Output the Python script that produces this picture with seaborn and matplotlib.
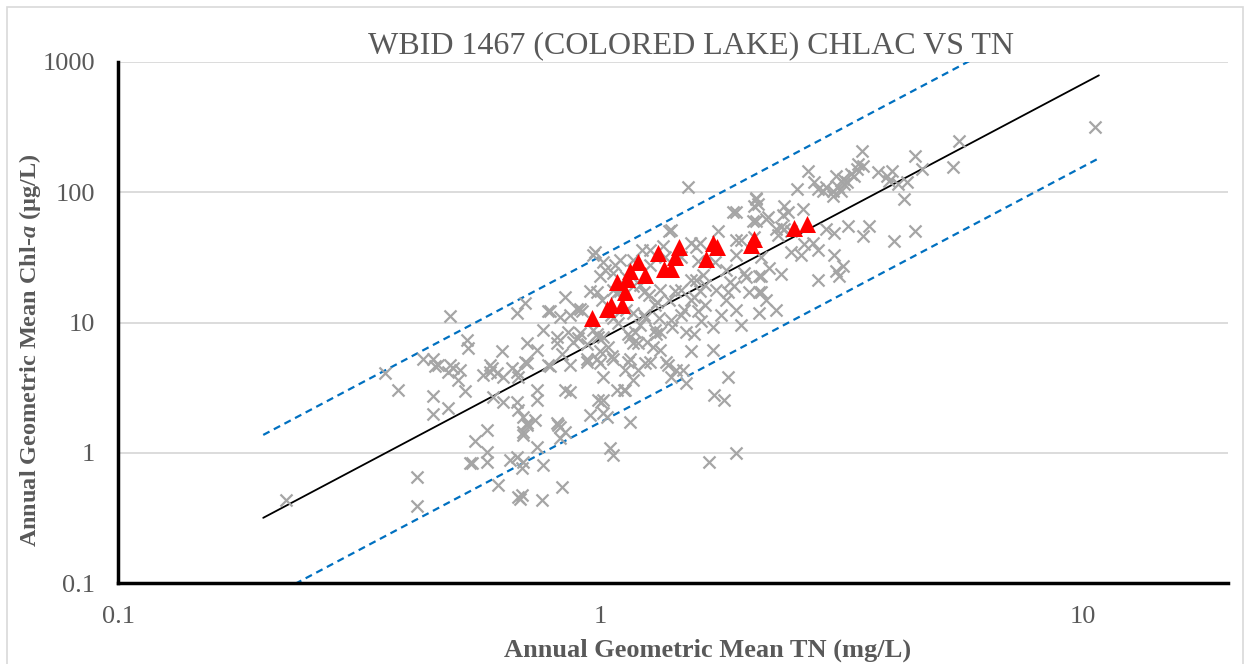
import numpy as np
import pandas as pd
import matplotlib
matplotlib.use("Agg")
import matplotlib.pyplot as plt
import matplotlib.ticker as mticker
from matplotlib.patches import Rectangle
import seaborn as sns

# ---------------- data ----------------
tn_gray = [
    0.223, 0.357, 0.380, 0.416, 0.416, 0.429, 0.450, 0.461, 0.488, 0.488, 0.494, 0.483, 0.512, 0.507, 0.524,
    0.529, 0.532, 0.450, 0.450, 0.483, 0.537, 0.455,
    0.582, 0.550, 0.582, 0.582, 0.542, 0.614, 0.675, 0.682, 0.689, 0.758, 0.834, 0.761, 0.692, 0.672,
    0.650, 0.740, 0.689, 0.814, 0.826, 0.846, 0.826, 0.818, 0.705, 0.692, 1.049, 1.064, 1.68, 1.91,
    0.590, 0.590, 0.571, 0.610, 0.629, 0.626, 0.672, 0.705, 0.675, 0.705,
    0.599, 0.629, 0.672, 0.675, 0.692, 0.740, 0.740, 0.733, 0.705, 0.692,
    0.761, 0.787, 0.826, 0.814, 0.814, 0.834, 0.866, 0.787, 0.846, 0.866,
    0.846, 0.698, 0.672, 0.780, 0.896, 0.917, 0.866, 0.780, 0.596, 0.856,
    0.878, 0.909, 0.967, 0.990, 0.940, 1.0, 0.940, 0.740, 0.698, 0.656,
    0.900, 0.909, 0.940, 0.986, 0.990, 1.005, 1.014, 1.014, 0.953, 1.014,
    1.034, 1.085, 1.127, 1.154, 1.039, 1.059, 1.014, 0.976, 1.014, 0.986,
    1.154, 1.170, 1.143, 1.194, 1.064, 1.0, 1.117, 1.127, 1.170,
    1.143, 1.182, 1.194, 1.252, 1.283, 1.301, 1.332, 1.41, 1.502, 1.56,
    1.614, 1.71, 1.538, 1.71, 1.154, 1.240, 1.270, 1.365, 1.378, 1.432,
    1.48, 1.84, 1.72, 1.80, 1.398, 1.502, 1.332,
    1.516, 0.967, 1.385, 1.88, 2.08, 2.07, 2.08, 1.538, 1.576, 1.270,
    1.22, 1.17, 1.10, 1.024, 1.0, 0.953, 0.986, 1.01, 1.064, 1.10,
    1.21, 1.26, 1.30, 1.33, 1.39, 1.43, 1.49, 1.54, 1.61, 1.65,
    1.74, 1.82, 1.78, 1.91, 1.955, 1.24, 1.32, 1.40, 1.47, 1.54,
    1.63, 1.65, 1.82, 1.86, 2.0, 2.03, 2.2, 2.31, 1.91, 1.73,
    1.955, 2.15, 2.24, 1.06, 1.13, 1.27, 1.36, 1.47, 1.59, 1.05,
    1.13, 1.21, 1.30, 1.064, 1.09, 1.17, 1.23, 1.59, 1.84, 1.89,
    1.98, 2.13, 2.13, 2.13, 1.074, 1.085, 1.17, 1.23, 1.31, 1.47,
    1.56, 1.576, 1.75, 1.91, 1.40, 1.35, 1.61, 1.91, 2.10, 2.23,
    2.37, 2.485,
    5.55, 3.48, 4.48, 4.64, 5.38, 2.70, 3.08, 3.18, 3.24, 3.31,
    3.40, 3.42, 3.50, 3.36, 3.76, 3.92, 4.02, 3.96, 4.14, 4.32,
    4.26, 2.77, 2.83, 2.94, 3.03, 3.11, 3.16, 3.20, 3.03, 2.89,
    2.55, 2.10, 2.12, 2.40, 2.45, 2.39, 2.63, 2.20, 2.10, 2.31,
    2.40, 2.34, 2.94, 3.05, 3.26, 3.60, 3.50, 4.06, 4.48, 2.48,
    2.61, 2.64, 2.76, 2.83, 3.05, 2.37, 2.15, 2.15, 2.83, 3.08,
    3.13, 3.18, 10.6,
]
chla_gray = [
    0.435, 4.1, 3.05, 0.65, 0.39, 5.2, 5.2, 4.75, 11.2, 4.75, 4.5, 4.2, 4.35, 3.64, 3.0,
    7.4, 6.4, 2.75, 2.0, 2.2, 0.84, 4.6,
    1.50, 1.24, 1.02, 0.85, 0.84, 0.57, 0.46, 0.44, 0.47, 0.435, 0.55, 0.81, 0.85, 0.93,
    0.88, 1.11, 0.77, 1.70, 1.58, 1.45, 1.30, 1.64, 1.70, 1.45, 1.09, 0.96, 0.85, 1.0,
    4.75, 4.2, 3.98, 4.1, 3.84, 6.0, 4.2, 4.9, 3.84, 7.0,
    2.7, 2.47, 2.47, 2.14, 1.89, 3.05, 2.56, 1.79, 1.64, 1.38,
    8.8, 12.2, 11.1, 7.7, 7.0, 5.7, 4.75, 4.6, 3.05, 2.95,
    15.8, 14.2, 11.9, 12.2, 12.6, 12.2, 11.5, 4.75, 4.5, 8.5,
    7.1, 8.3, 8.8, 7.8, 6.8, 6.0, 5.2, 6.2, 5.0, 4.5,
    7.6, 12.6, 5.0, 5.2, 2.56, 2.47, 2.56, 3.84, 1.96, 2.03,
    1.89, 3.05, 3.05, 1.73, 6.5, 5.5, 7.7, 34.5, 28.9, 8.1,
    7.8, 7.0, 5.0, 4.35, 5.2, 4.9, 3.05, 4.35, 3.64,
    8.1, 8.4, 7.0, 7.1, 6.5, 8.1, 8.4, 9.3, 8.4, 8.1,
    10.2, 9.3, 6.0, 6.2, 5.2, 4.9, 5.0, 5.0, 4.75, 4.35,
    4.35, 3.84, 2.79, 2.56, 3.84, 3.45, 6.2,
    109, 33, 50, 71, 78, 60, 45, 41, 38, 36,
    36, 30, 30, 25.3, 22.6, 17.3, 17.0, 15, 24, 17.3,
    19.4, 16.3, 13.6, 17.8, 14.9, 17.3, 12.5, 14.9, 17.3, 13.6,
    17.8, 14.9, 11.4, 12.5, 9.6, 10.9, 10.9, 10.5, 11.4, 21.2,
    23.2, 19.4, 25.3, 20.3, 22.2, 17.0, 14.9, 12.5, 33, 29,
    43, 31.6, 26.4, 17.9, 22.2, 27.7, 31.6, 31.6, 29.4, 11.4,
    12.5, 9.6, 8.8, 10.9, 10.0, 11.9, 11.4, 12.2, 17.0, 18.9,
    24.2, 17.0, 11.9, 22.6, 27.7, 17.0, 18.9, 17.0, 14.3, 17.8,
    15.8, 21.2, 50, 43, 51.6, 38.5, 41, 70, 88, 64,
    54, 50,
    247, 207, 189, 150, 156, 145, 133, 126, 119, 137,
    150, 164, 158, 133, 142, 133, 145, 121, 115, 119,
    88, 119, 105, 109, 102, 109, 102, 115, 93, 102,
    105, 91, 81, 78, 71, 67, 74, 62, 60, 52,
    52, 47, 52, 49, 55, 55, 46, 42, 50, 34.5,
    33, 39.8, 41, 36, 33, 23.4, 22.6, 17.0, 21.2, 24.7,
    22.6, 27, 316,
]
tn_red = [0.962, 1.034, 1.054, 1.111, 1.122, 1.080, 1.138, 1.154, 1.194, 1.240, 1.314,
          1.352, 1.398, 1.425, 1.453, 1.653, 1.710, 1.742, 2.050, 2.080, 2.519, 2.681]
chla_red = [10.9, 12.8, 13.7, 13.7, 17.0, 20.3, 21.4, 24.7, 28.9, 23.0, 34.0,
            25.6, 25.6, 31.6, 37.7, 30.5, 40.5, 37.7, 39.1, 43.5, 52.8, 56.7]

# regression (log-log) parameters
fit_coef = 7.43
fit_exp = 1.961
band_factor = 4.33
fit_tn_range = [0.2, 10.8]

x_ticks = [0.1, 1, 10]
y_ticks = [0.1, 1, 10, 100, 1000]
title = "WBID 1467 (COLORED LAKE) CHLAC VS TN"
xlabel = "Annual Geometric Mean TN (mg/L)"
ylabel = "Annual Geometric Mean Chl-$\\mathit{a}$ (μg/L)"

# ---------------- style ----------------
sns.set_theme(style="white")
plt.rcParams["font.family"] = ["Liberation Serif", "DejaVu Serif"]
plt.rcParams["mathtext.fontset"] = "custom"
plt.rcParams["mathtext.rm"] = "Liberation Serif:bold"
plt.rcParams["mathtext.it"] = "Liberation Serif:italic:bold"
plt.rcParams["mathtext.bf"] = "Liberation Serif:bold"

W, H = 1250, 664
fig = plt.figure(figsize=(W / 100, H / 100), dpi=100)
fig.patch.set_facecolor("white")
ax = fig.add_axes([118 / W, 1 - 583 / H, (1228 - 118) / W, (583 - 62) / H])

fig.patches.append(Rectangle((7 / W, -0.01), (1243 - 7) / W, 1 - 7 / H + 0.01,
                             transform=fig.transFigure, fill=False,
                             edgecolor="#d9d9d9", lw=1.2, zorder=0))

ax.set_xscale("log")
ax.set_yscale("log")

# fitted line and prediction band
xf = np.geomspace(fit_tn_range[0], fit_tn_range[1], 200)
yf = fit_coef * xf ** fit_exp
fit_df = pd.DataFrame({"tn": xf, "fit": yf, "upper": yf * band_factor, "lower": yf / band_factor})
sns.lineplot(data=fit_df, x="tn", y="fit", ax=ax, color="black", lw=1.3, zorder=2)
sns.lineplot(data=fit_df, x="tn", y="upper", ax=ax, color="#0070c0", lw=1.6,
             dashes=False, zorder=2).lines[-1].set_dashes((3.2, 2.2))
sns.lineplot(data=fit_df, x="tn", y="lower", ax=ax, color="#0070c0", lw=1.6,
             dashes=False, zorder=2).lines[-1].set_dashes((3.2, 2.2))

sns.scatterplot(x=tn_gray, y=chla_gray, ax=ax, marker="x", color="#a5a5a5",
                s=75, linewidth=1.6, zorder=3)
sns.scatterplot(x=tn_red, y=chla_red, ax=ax, marker="^", color="#ff0000",
                s=150, linewidth=0, zorder=4)

ax.set_xlim(0.1, 20)
ax.set_ylim(0.1, 1000)

ax.xaxis.set_major_locator(mticker.FixedLocator(x_ticks))
ax.yaxis.set_major_locator(mticker.FixedLocator(y_ticks))
ax.xaxis.set_minor_locator(mticker.LogLocator(base=10, subs=np.arange(2, 10)))
ax.yaxis.set_minor_locator(mticker.LogLocator(base=10, subs=np.arange(2, 10)))
ax.xaxis.set_major_formatter(mticker.FixedFormatter([f"{v:g}" for v in x_ticks]))
ax.yaxis.set_major_formatter(mticker.FixedFormatter([f"{v:g}" for v in y_ticks]))
ax.xaxis.set_minor_formatter(mticker.NullFormatter())
ax.yaxis.set_minor_formatter(mticker.NullFormatter())

ax.yaxis.grid(True, which="major", color="#d9d9d9", lw=1.3)
ax.xaxis.grid(False)
ax.set_axisbelow(True)

for s in ["top", "right"]:
    ax.spines[s].set_visible(False)
for s in ["left", "bottom"]:
    ax.spines[s].set_color("black")
    ax.spines[s].set_linewidth(2.5)

ax.tick_params(axis="both", which="major", direction="inout", length=11, width=2.0,
               color="black", labelsize=19, labelcolor="#595959", pad=8)
ax.tick_params(axis="both", which="minor", direction="in", length=5, width=1.7, color="black")
ax.tick_params(axis="x", which="major", pad=11)
ax.tick_params(axis="y", which="major", pad=11)

fig.text(691 / W, 1 - 46 / H, title, ha="center", va="center", fontsize=23, color="#595959")
fig.text(708 / W, 1 - 650 / H, xlabel, ha="center", va="center", fontsize=19,
         fontweight="bold", color="#595959")
fig.text(30 / W, 1 - 350 / H, ylabel, ha="center", va="center", rotation=90, fontsize=17.5,
         fontweight="bold", color="#595959")

ax.set_xlabel("")
ax.set_ylabel("")
fig.savefig("out.png", dpi=100)
